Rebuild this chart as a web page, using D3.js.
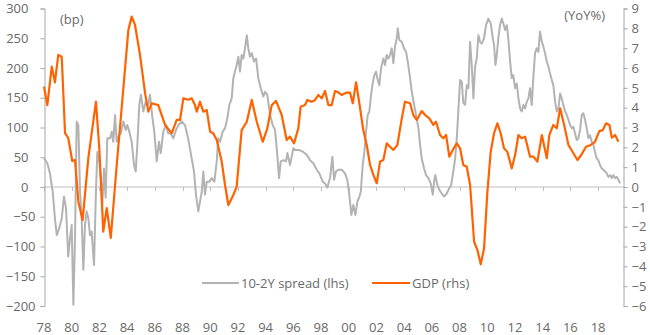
<!DOCTYPE html>
<html>
<head>
<meta charset="utf-8">
<script src="https://cdn.jsdelivr.net/npm/d3@7/dist/d3.min.js"></script>
<style>
  html, body { margin: 0; padding: 0; background: #fff; }
  svg { display: block; }
  text { font-family: "Open Sans", sans-serif; font-size: 13px; fill: #6a6a6a; }
</style>
</head>
<body>
<svg id="chart" width="650" height="335"></svg>
<script>
// ---------------- DATA ----------------
const xTickYears = [1978,1980,1982,1984,1986,1988,1990,1992,1994,1996,1998,2000,2002,2004,2006,2008,2010,2012,2014,2016,2018];
const xTickLabels = ["78","80","82","84","86","88","90","92","94","96","98","00","02","04","06","08","10","12","14","16","18"];
const leftTicks = [-200,-150,-100,-50,0,50,100,150,200,250,300];
const rightTicks = [-6,-5,-4,-3,-2,-1,0,1,2,3,4,5,6,7,8,9];

const seriesNames = ["10-2Y spread (lhs)", "GDP (rhs)"];

const gdpDates = [
1978.00,1978.24,1978.56,1978.79,1979.03,1979.28,1979.52,1979.75,1980.04,1980.24,1980.48,1980.79,
1981.20,1981.75,1981.99,1982.28,1982.53,1982.82,1983.25,1983.73,1984.09,1984.33,1984.57,1984.93,
1985.30,1985.53,1985.78,1986.25,1986.74,1987.22,1987.58,1987.82,1988.06,1988.42,1988.66,1988.90,
1989.03,1989.26,1989.50,1989.75,1989.99,1990.22,1990.47,1990.83,1991.07,1991.31,1991.67,1991.91,
1992.27,1992.64,1993.00,1993.36,1993.79,1994.12,1994.44,1994.75,1995.16,1995.52,1995.76,1996.05,
1996.36,1996.53,1996.84,1997.01,1997.33,1997.57,1997.81,1998.05,1998.29,1998.53,1998.77,1999.01,
1999.25,1999.49,1999.85,2000.09,2000.29,2000.53,2000.82,2001.05,2001.30,2001.54,2001.78,2002.02,
2002.26,2002.50,2002.74,2002.98,2003.22,2003.51,2003.83,2004.06,2004.43,2004.66,2004.91,2005.27,
2005.51,2005.82,2006.11,2006.30,2006.59,2006.83,2007.03,2007.26,2007.51,2007.80,2008.04,2008.27,
2008.52,2008.76,2009.05,2009.29,2009.53,2009.77,2010.01,2010.25,2010.49,2010.73,2010.97,2011.21,
2011.45,2011.77,2012.01,2012.25,2012.49,2012.73,2013.09,2013.33,2013.62,2013.94,2014.30,2014.48,
2014.77,2015.02,2015.26,2015.55,2015.86,2016.22,2016.51,2016.82,2017.13,2017.47,2017.78,2018.09,
2018.34,2018.58,2018.82,2018.99,2019.23,2019.47
];
const gdpValues = [
5.06,4.13,6.07,5.28,6.66,6.57,2.72,2.47,1.31,1.36,-0.74,-1.66,
1.46,4.30,1.97,-2.25,-1.06,-2.57,1.11,4.98,7.92,8.59,8.17,6.66,
4.72,3.80,4.22,4.13,3.13,2.71,3.38,3.38,4.47,4.40,4.47,4.13,
3.80,4.30,3.80,3.88,2.79,2.71,2.37,1.28,0.10,-0.91,-0.40,0.02,
2.87,3.29,4.39,3.29,2.28,2.96,4.13,4.34,3.63,2.37,2.54,2.20,
2.96,4.05,4.13,4.39,4.30,4.39,4.64,4.47,4.84,4.13,4.13,4.84,
4.76,4.64,4.76,4.76,4.22,5.28,3.97,2.87,2.12,1.11,0.61,0.19,
1.28,1.36,2.20,2.03,1.87,2.12,3.46,4.30,4.22,3.63,3.38,3.83,
3.63,3.46,3.13,3.29,2.62,2.46,2.62,1.53,1.87,2.20,1.95,1.11,
1.02,0.10,-2.76,-3.18,-3.90,-3.09,-0.24,1.78,2.71,3.21,2.71,1.95,
1.78,0.94,1.61,2.62,2.46,2.54,1.53,1.53,1.28,2.62,1.45,2.62,
3.13,2.96,3.97,3.13,2.12,1.70,1.36,1.65,2.03,2.12,2.28,2.82,
2.87,3.21,3.13,2.49,2.62,2.28
];

const spreadDates = [
1978.00,1978.24,1978.43,1978.63,1978.79,1978.92,1979.10,1979.28,1979.44,1979.59,1979.75,1979.88,
1980.00,1980.12,1980.24,1980.36,1980.48,1980.60,1980.72,1980.84,1980.96,1981.08,1981.20,1981.32,
1981.44,1981.61,1981.75,1981.85,1981.99,1982.12,1982.21,1982.33,1982.45,1982.57,1982.77,1982.89,
1983.00,1983.13,1983.25,1983.42,1983.54,1983.73,1983.90,1984.01,1984.16,1984.33,1984.50,1984.62,
1984.74,1984.88,1985.00,1985.17,1985.34,1985.53,1985.65,1985.82,1985.96,1986.14,1986.30,1986.43,
1986.61,1986.81,1986.97,1987.15,1987.34,1987.53,1987.70,1987.94,1988.18,1988.42,1988.66,1988.83,
1988.97,1989.14,1989.26,1989.39,1989.50,1989.62,1989.75,1989.94,1990.11,1990.30,1990.47,1990.58,
1990.71,1990.90,1991.07,1991.23,1991.38,1991.55,1991.67,1991.79,1991.91,1992.03,1992.15,1992.27,
1992.39,1992.51,1992.64,1992.75,1992.87,1993.00,1993.16,1993.31,1993.47,1993.65,1993.83,1993.96,
1994.12,1994.32,1994.51,1994.68,1994.84,1994.97,1995.09,1995.28,1995.47,1995.57,1995.76,1996.00,
1996.19,1996.43,1996.72,1996.97,1997.21,1997.44,1997.69,1997.88,1998.12,1998.29,1998.45,1998.65,
1998.82,1998.94,1999.08,1999.25,1999.49,1999.73,1999.90,2000.04,2000.19,2000.33,2000.48,2000.62,
2000.77,2000.87,2001.01,2001.13,2001.25,2001.37,2001.49,2001.61,2001.73,2001.85,2001.97,2002.09,
2002.21,2002.33,2002.50,2002.62,2002.74,2002.86,2002.98,2003.10,2003.22,2003.34,2003.47,2003.54,
2003.65,2003.83,2003.99,2004.14,2004.26,2004.43,2004.55,2004.72,2004.86,2005.03,2005.15,2005.27,
2005.44,2005.58,2005.75,2005.92,2006.07,2006.16,2006.25,2006.40,2006.54,2006.72,2006.88,2007.08,
2007.26,2007.39,2007.55,2007.68,2007.80,2007.91,2008.04,2008.16,2008.27,2008.40,2008.52,2008.64,
2008.76,2008.88,2009.00,2009.12,2009.24,2009.36,2009.48,2009.60,2009.77,2009.91,2010.08,2010.25,
2010.40,2010.49,2010.59,2010.69,2010.80,2010.92,2011.05,2011.16,2011.29,2011.41,2011.52,2011.65,
2011.77,2011.88,2012.01,2012.13,2012.25,2012.37,2012.49,2012.61,2012.73,2012.85,2012.97,2013.09,
2013.21,2013.33,2013.45,2013.57,2013.69,2013.81,2013.94,2014.05,2014.17,2014.30,2014.42,2014.53,
2014.66,2014.77,2014.90,2015.02,2015.14,2015.26,2015.38,2015.49,2015.62,2015.74,2015.86,2015.98,
2016.10,2016.22,2016.34,2016.46,2016.58,2016.70,2016.82,2016.94,2017.06,2017.18,2017.30,2017.42,
2017.54,2017.66,2017.78,2017.90,2018.02,2018.14,2018.27,2018.38,2018.51,2018.63,2018.74,2018.87,
2018.99,2019.10,2019.23,2019.35,2019.47,2019.59
];
const spreadValues = [
48,40,23,-8,-53,-81,-69,-53,-16,-36,-117,-86,
-64,-198,-86,110,104,-8,-52,-139,-64,-41,-52,-81,
-75,-131,-8,59,43,9,-30,31,-18,82,82,93,
76,121,76,87,90,110,96,104,93,76,37,26,
71,138,155,127,143,138,155,118,93,43,76,57,
93,104,90,90,82,96,104,110,104,80,48,26,
-13,-41,-25,-8,26,-13,9,9,15,9,43,82,
76,93,99,115,138,149,183,194,205,219,194,222,
216,233,255,233,219,225,211,216,183,166,152,160,
155,121,104,96,54,15,43,45,43,57,37,65,
62,62,59,54,45,40,29,23,9,6,-1,15,
51,12,26,29,29,23,12,-13,-47,-30,-47,-25,
-16,-8,37,59,93,121,127,155,174,188,194,180,
171,199,216,205,222,216,222,233,208,236,250,267,
247,244,233,227,211,183,160,138,121,99,71,48,
31,20,15,6,-13,9,20,3,-5,-11,-16,-11,
-2,3,26,48,82,127,180,177,141,138,171,166,
244,205,149,202,216,255,244,241,250,272,283,275,
250,239,205,222,250,272,283,275,264,272,250,211,
183,188,166,174,149,132,127,138,132,143,149,166,
138,185,225,233,227,261,244,236,225,211,202,191,
180,171,143,127,132,157,149,138,127,121,113,104,
99,101,90,79,82,96,121,124,113,99,82,87,
76,71,59,48,45,37,31,29,26,23,17,20,
15,20,15,17,12,6
];

// ---------------- CHART ----------------
const svg = d3.select("#chart");
const M = { left: 44, right: 623, top: 8.5, bottom: 306 };

const x = d3.scaleLinear().domain([1978, 2019.8]).range([M.left, M.right]);
const yL = d3.scaleLinear().domain([-200, 300]).range([M.bottom, M.top]);
const yR = d3.scaleLinear().domain([-6, 9]).range([M.bottom, M.top]);

const axisColor = "#a6a6a6";

// zero line
svg.append("line")
  .attr("x1", M.left).attr("x2", M.right)
  .attr("y1", yL(0)).attr("y2", yL(0))
  .attr("stroke", "#bfbfbf").attr("stroke-width", 1);

// x tick marks on zero line
svg.append("g").selectAll("line").data(xTickYears).join("line")
  .attr("x1", d => Math.round(x(d)) + 0.5).attr("x2", d => Math.round(x(d)) + 0.5)
  .attr("y1", yL(0)).attr("y2", yL(0) + 4)
  .attr("stroke", "#bfbfbf").attr("stroke-width", 1);

// x labels at bottom
svg.append("g").selectAll("text").data(xTickYears).join("text")
  .attr("x", d => x(d)).attr("y", 332)
  .attr("text-anchor", "middle")
  .text((d, i) => xTickLabels[i]);

// left axis
const gL = svg.append("g").attr("transform", `translate(${M.left + 0.5},0)`)
  .call(d3.axisLeft(yL).tickValues(leftTicks).tickSize(4).tickPadding(5).tickFormat(d3.format("d")));
gL.select(".domain").attr("stroke", axisColor);
gL.selectAll(".tick line").attr("stroke", axisColor);
gL.selectAll(".tick text")
  .attr("font-family", null).attr("font-size", null)
  .attr("dx", d => d >= 0 ? -7 : 0);

// right axis
const gR = svg.append("g").attr("transform", `translate(${M.right + 0.5},0)`)
  .call(d3.axisRight(yR).tickValues(rightTicks).tickSize(4).tickPadding(4).tickFormat(d3.format("d")));
gR.select(".domain").attr("stroke", axisColor);
gR.selectAll(".tick line").attr("stroke", axisColor);
gR.selectAll(".tick text").attr("font-family", null).attr("font-size", null);

// unit labels
svg.append("text").attr("x", 60).attr("y", 24).text("(bp)");
svg.append("text").attr("x", 605).attr("y", 19.5).attr("text-anchor", "end").text("(YoY%)");

// spread line
const spreadData = spreadDates.map((d, i) => [d, spreadValues[i]]);
svg.append("path")
  .datum(spreadData)
  .attr("fill", "none")
  .attr("stroke", "#b3b3b3")
  .attr("stroke-width", 2)
  .attr("stroke-linejoin", "round")
  .attr("d", d3.line().x(d => x(d[0])).y(d => yL(d[1])));

// GDP line
const gdpData = gdpDates.map((d, i) => [d, gdpValues[i]]);
svg.append("path")
  .datum(gdpData)
  .attr("fill", "none")
  .attr("stroke", "#ff6200")
  .attr("stroke-width", 2.2)
  .attr("stroke-linejoin", "round")
  .attr("d", d3.line().x(d => x(d[0])).y(d => yR(d[1])));

// legend
const legendItems = [
  { name: seriesNames[0], color: "#b3b3b3", x1: 202, x2: 239 },
  { name: seriesNames[1], color: "#ff6200", x1: 372, x2: 410 }
];
const lg = svg.append("g").selectAll("g").data(legendItems).join("g");
lg.append("line")
  .attr("x1", d => d.x1).attr("x2", d => d.x2)
  .attr("y1", 283).attr("y2", 283)
  .attr("stroke", d => d.color).attr("stroke-width", 2);
lg.append("text")
  .attr("x", d => d.x2 + 2).attr("y", 287.5)
  .text(d => d.name);
</script>
</body>
</html>
